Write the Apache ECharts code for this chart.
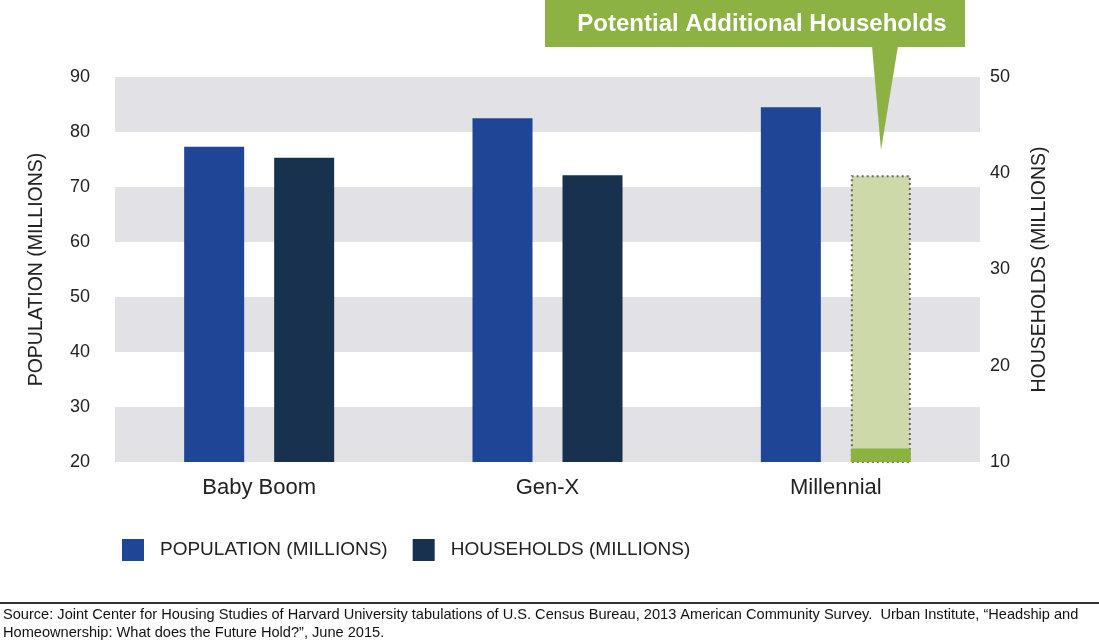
<!DOCTYPE html>
<html>
<head>
<meta charset="utf-8">
<script src="https://cdn.jsdelivr.net/npm/echarts@6/dist/echarts.min.js"></script>
<style>html,body{margin:0;padding:0;background:#fff}#c{width:1099px;height:642px}</style>
</head>
<body>
<div id="c"></div>
<script>
const categories = ['Baby Boom', 'Gen-X', 'Millennial'];
const populationValues = [77.3, 82.5, 84.5];
const householdValues = [41.6, 39.8, 11.4];
const potentialValues = [null, null, 39.8];
const leftTicks = { min: 20, max: 90, interval: 10 };
const rightTicks = { min: 10, max: 50, interval: 10 };
const popName = 'POPULATION (MILLIONS)';
const hhName = 'HOUSEHOLDS (MILLIONS)';
const calloutText = 'Potential Additional Households';
const sourceLines = [
  'Source: Joint Center for Housing Studies of Harvard University tabulations of U.S. Census Bureau, 2013 American Community Survey.  Urban Institute, \u201cHeadship and',
  'Homeownership: What does the Future Hold?\u201d, June 2015.'
];

const FONT = 'Liberation Sans, Arial, Helvetica, sans-serif';
const chart = echarts.init(document.getElementById('c'), null, { renderer: 'canvas' });

const hhData = householdValues.map((v, i) => i === 2 ? { value: v, itemStyle: { color: '#8ab340' } } : v);

chart.setOption({
  animation: false,
  textStyle: { fontFamily: FONT },
  grid: { left: 115, right: 119, top: 77, bottom: 180 },
  legend: {
    data: [popName, hhName],
    left: 117, top: 534,
    icon: 'rect', itemWidth: 22, itemHeight: 22, itemGap: 25,
    textStyle: { fontSize: 19, color: '#222', fontFamily: FONT, padding: [0, 0, 0, 11] }
  },
  xAxis: [
    {
      type: 'category', data: categories,
      axisLine: { show: false }, axisTick: { show: false },
      axisLabel: { fontSize: 22, color: '#222', margin: 15 }
    },
    { type: 'category', data: categories, show: false }
  ],
  yAxis: [
    {
      type: 'value', min: leftTicks.min, max: leftTicks.max, interval: leftTicks.interval,
      name: popName, nameLocation: 'middle', nameGap: 68, nameRotate: 90,
      nameTextStyle: { fontSize: 19.5, color: '#222' },
      axisLine: { show: false }, axisTick: { show: false },
      axisLabel: { fontSize: 18, color: '#222', margin: 25 },
      splitLine: { show: false },
      splitArea: { show: true, areaStyle: { color: ['#e1e1e6', '#ffffff'] } }
    },
    {
      type: 'value', min: rightTicks.min, max: rightTicks.max, interval: rightTicks.interval,
      name: hhName, nameLocation: 'middle', nameGap: 50, nameRotate: 90,
      nameTextStyle: { fontSize: 19.5, color: '#222' },
      axisLine: { show: false }, axisTick: { show: false },
      axisLabel: { fontSize: 18, color: '#222', margin: 10 },
      splitLine: { show: false }
    }
  ],
  series: [
    {
      name: popName, type: 'bar', xAxisIndex: 0, yAxisIndex: 0,
      data: populationValues, barWidth: 60, barGap: '50%',
      itemStyle: { color: '#1f4696' }
    },
    {
      name: hhName, type: 'bar', xAxisIndex: 0, yAxisIndex: 1,
      data: hhData, barWidth: 60, barGap: '50%', z: 3,
      itemStyle: { color: '#17314f' }
    },
    {
      name: 'placeholder', type: 'bar', xAxisIndex: 1, yAxisIndex: 0,
      data: [null, null, null], barWidth: 60, barGap: '50%', silent: true
    },
    {
      name: 'Potential', type: 'bar', xAxisIndex: 1, yAxisIndex: 1,
      data: potentialValues, barWidth: 60, barGap: '50%', z: 1,
      itemStyle: { color: '#cdd9a9', borderColor: '#666', borderWidth: 2, borderType: [2, 3] }
    }
  ],
  graphic: [
    { type: 'rect', z: 100, shape: { x: 545, y: 0, width: 420, height: 47 }, style: { fill: '#8db244' } },
    { type: 'polygon', z: 100, shape: { points: [[872, 46], [898, 46], [881, 150]] }, style: { fill: '#8db244' } },
    { type: 'text', z: 101, x: 762, y: 24, style: { text: calloutText, fill: '#fff', font: 'bold 24px ' + FONT, align: 'center', verticalAlign: 'middle' } },
    { type: 'line', z: 100, shape: { x1: 0, y1: 603, x2: 1099, y2: 603 }, style: { stroke: '#333', lineWidth: 2 } },
    { type: 'text', z: 100, x: 3, y: 615, style: { text: sourceLines[0], fill: '#111', font: '14.6px ' + FONT, verticalAlign: 'middle' } },
    { type: 'text', z: 100, x: 3, y: 633, style: { text: sourceLines[1], fill: '#111', font: '14.6px ' + FONT, verticalAlign: 'middle' } }
  ]
});
</script>
</body>
</html>
